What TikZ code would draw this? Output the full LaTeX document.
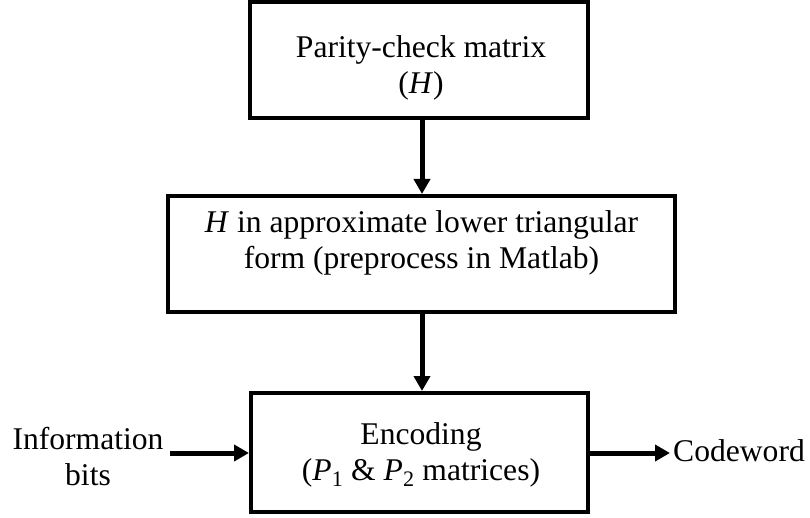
\documentclass[tikz,border=0pt]{standalone}
\usepackage{fontspec}
\setmainfont{Liberation Serif}
\usetikzlibrary{arrows.meta}

\tikzset{
  blockbox/.style={draw=black, line width=4pt, rectangle, inner sep=0pt},
  blocktext/.style={align=center, inner sep=0pt,
    font=\fontsize{31.6}{36}\selectfont},
  flow/.style={line width=5pt, -{Triangle[length=15pt,width=16pt]}}
}

\begin{document}
\begin{tikzpicture}[x=1pt, y=-1pt]
  \useasboundingbox (0,0) rectangle (810,518);

  % processing blocks
  \node[blockbox, minimum width=338pt, minimum height=116pt] (box1) at (419,60) {};
  \node[blockbox, minimum width=507pt, minimum height=116pt] (box2) at (421.5,254) {};
  \node[blockbox, minimum width=337pt, minimum height=119pt] (box3) at (419.5,452.5) {};

  % block captions
  \node[blocktext] (t1) at (421,68) {Parity-check matrix\\(\textit{H})};
  \node[blocktext] (t2) at (421.5,243) {\textit{H} in approximate lower triangular\\form (preprocess in Matlab)};
  \node[blocktext] (t3) at (421,455) {Encoding\\(\textit{P}\textsubscript{1} \& \textit{P}\textsubscript{2} matrices)};

  % input and output labels
  \node[blocktext] (inbits) at (88,457) {Information\\bits};
  \node[blocktext, anchor=base west] (cw) at (673,461) {Codeword};

  \coordinate (instart) at (170,453);
  \coordinate (outend) at (670,453);

  % connectors
  \draw[flow] (box1.south -| 422,0) -- (box2.north -| 422,0);
  \draw[flow] (box2.south -| 422,0) -- (box3.north -| 422,0);
  \draw[flow] (instart) -- (instart -| box3.west);
  \draw[flow] (outend -| box3.east) -- (outend);
\end{tikzpicture}
\end{document}
